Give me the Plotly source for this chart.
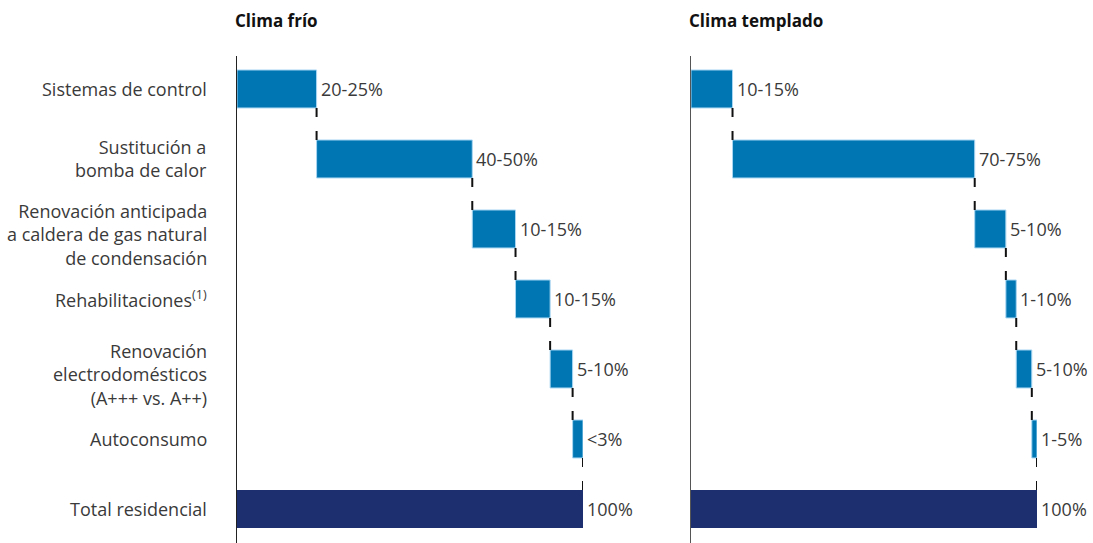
import plotly.graph_objects as go
import numpy as np

categories = [
    "Sistemas de control",
    "Sustitución a<br>bomba de calor",
    "Renovación anticipada<br>a caldera de gas natural<br>de condensación",
    "Rehabilitaciones<sup style='font-size:10px'>(1)</sup>",
    "Renovación<br>electrodomésticos<br>(A+++ vs. A++)",
    "Autoconsumo",
    "Total residencial",
]
frio_values = [23, 45, 12.5, 10, 6.5, 3]
frio_labels = ["20-25%", "40-50%", "10-15%", "10-15%", "5-10%", "<3%", "100%"]
templado_values = [12, 70, 9, 3, 4.5, 1.5]
templado_labels = ["10-15%", "70-75%", "5-10%", "1-10%", "5-10%", "1-5%", "100%"]
total_value = 100
titles = ["Clima frío", "Clima templado"]

W, H = 1093, 543
BLUE = "#0077B3"
NAVY = "#1E2F70"
TXT = "#3a3a3a"
FONT = "Open Sans"
FS = 18
BAR_W = 0.543
HALF = BAR_W / 2
LABEL_YSHIFT = {1: 0, 2: 0, 3: -6}

fig = go.Figure()
shapes = []
annotations = []

panels = [
    (frio_values, frio_labels, "x", "y", [237, 583]),
    (templado_values, templado_labels, "x2", "y2", [691, 1037]),
]

for p, (vals, labels, xa, ya, px) in enumerate(panels):
    bases = list(np.concatenate([[0], np.cumsum(vals)[:-1]]))
    ends = list(np.cumsum(vals))
    n = len(vals)
    ypos = list(range(n))
    fig.add_trace(go.Bar(
        x=vals, base=bases, y=ypos, orientation="h", width=BAR_W,
        marker=dict(color=BLUE, line=dict(color="#A9D6F2", width=1)),
        xaxis=xa, yaxis=ya, showlegend=False, hoverinfo="skip",
    ))
    fig.add_trace(go.Bar(
        x=[total_value], base=[0], y=[n], orientation="h", width=BAR_W,
        marker=dict(color=NAVY, line=dict(width=0)),
        xaxis=xa, yaxis=ya, showlegend=False, hoverinfo="skip",
    ))
    allends = ends + [total_value]
    for i, (e, lab) in enumerate(zip(allends, labels)):
        annotations.append(dict(
            x=e, y=i, xref=xa, yref=ya, text=lab, showarrow=False,
            xanchor="left", yanchor="middle", xshift=2,
            font=dict(family=FONT, size=FS, color=TXT),
        ))
    for i, e in enumerate(ends):
        shapes.append(dict(
            type="line", xref=xa, yref=ya,
            x0=e, x1=e, y0=i + HALF, y1=i + 1 - HALF,
            line=dict(color="#111111", width=2, dash="9px,14px"),
        ))
    annotations.append(dict(
        x=(px[0] - 4) / W, y=1 + (56 - 20) / (H - 56), xref="paper", yref="paper",
        text="<b>" + titles[p] + "</b>", showarrow=False,
        xanchor="left", yanchor="middle",
        font=dict(family=FONT, size=17, color="#111111"),
    ))

for i, cat in enumerate(categories):
    nlines = cat.count("<br>") + 1
    annotations.append(dict(
        x=209 / W, y=i, xref="paper", yref="y", text=cat, showarrow=False,
        xanchor="right", yanchor="middle", align="right",
        yshift=LABEL_YSHIFT[nlines],
        font=dict(family=FONT, size=FS, color=TXT),
    ))

yr = [6.486, -0.471]
fig.update_layout(
    width=W, height=H,
    margin=dict(l=0, r=0, t=56, b=0),
    paper_bgcolor="white", plot_bgcolor="white",
    barmode="overlay",
    font=dict(family=FONT, size=FS, color=TXT),
    xaxis=dict(domain=[237 / W, 583 / W], range=[0, 100], visible=False, fixedrange=True),
    xaxis2=dict(domain=[691 / W, 1037 / W], range=[0, 100], visible=False, fixedrange=True),
    yaxis=dict(
        range=yr, showticklabels=False,
        showline=True, linecolor="#222222", linewidth=1, showgrid=False, zeroline=False,
        ticks="",
    ),
    yaxis2=dict(
        range=yr, anchor="x2", showticklabels=False,
        showline=True, linecolor="#555555", linewidth=1, showgrid=False, zeroline=False,
        ticks="",
    ),
    shapes=shapes,
    annotations=annotations,
)

fig.write_html("out.html")
